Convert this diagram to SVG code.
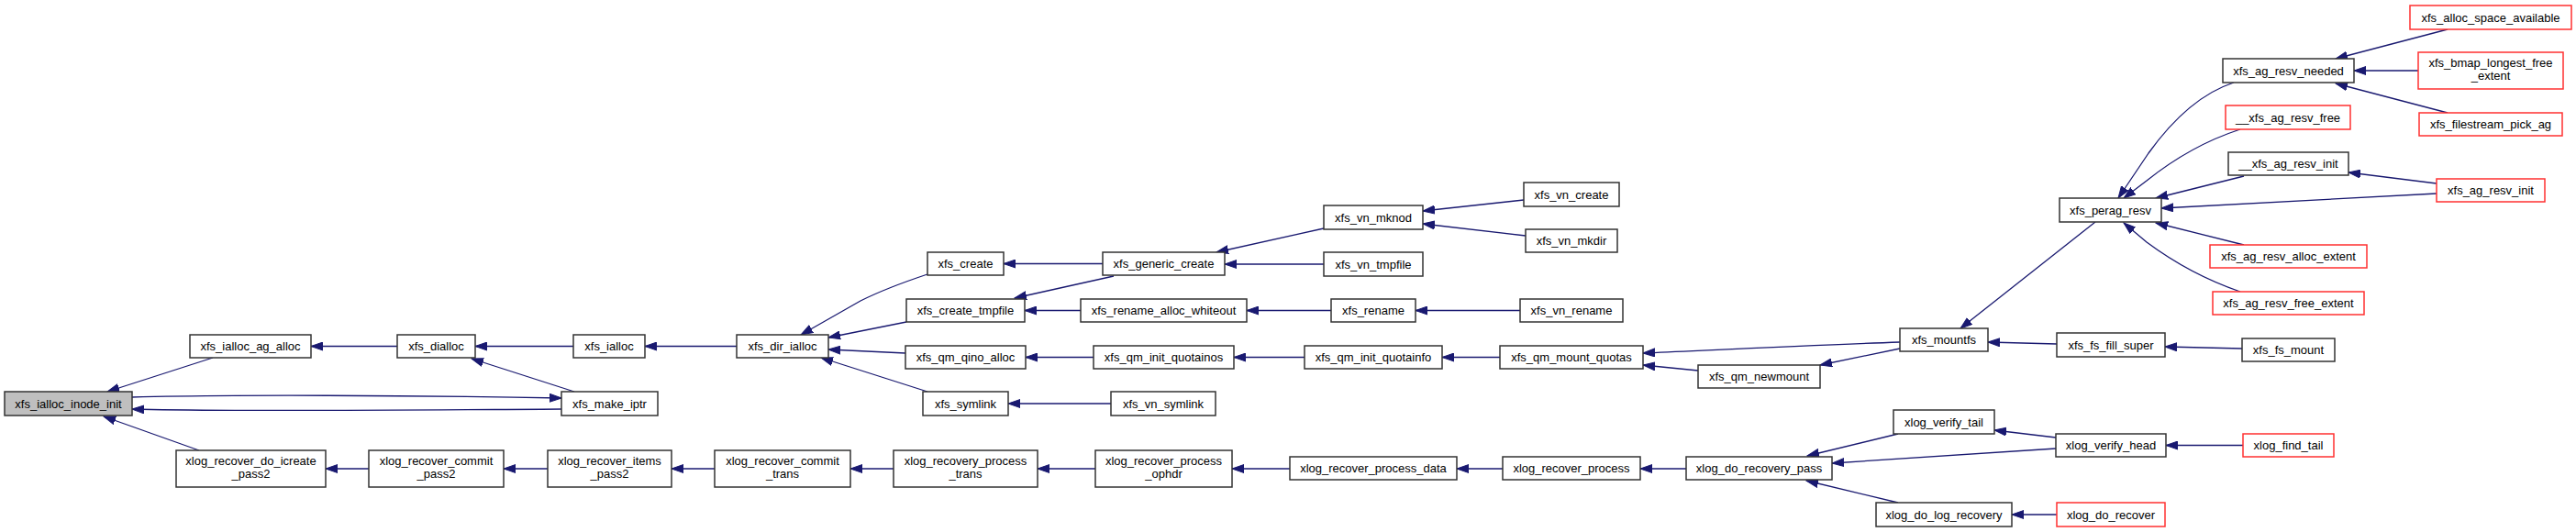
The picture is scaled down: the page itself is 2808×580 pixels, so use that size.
<svg xmlns="http://www.w3.org/2000/svg" width="2808" height="580" viewBox="0 0 2808 580">
<style>
.n rect{fill:#ffffff;stroke:#333333;stroke-width:1.5}
.n.r rect{stroke:#ff3030}
.n.root rect{fill:#bfbfbf}
.n text{font-family:"Liberation Sans",Arial,sans-serif;font-size:13px;fill:#000;text-anchor:middle}
#edges path{fill:none;stroke:#191970;stroke-width:1.3;marker-end:url(#ah)}
</style>
<defs>
<marker id="ah" markerUnits="userSpaceOnUse" viewBox="0 0 14 10" refX="13" refY="5" markerWidth="14" markerHeight="10" orient="auto">
<path d="M0,0.5 L13,5 L0,9.5 z" fill="#191970" stroke="#191970" stroke-width="1"/>
</marker>
</defs>
<rect x="0" y="0" width="2808" height="580" fill="#ffffff"/>
<g id="edges">
<path d="M232,390 L117,427"/>
<path d="M612,446 C450,447 250,449 144,446"/>
<path d="M144,433 C250,430 450,431 612,434"/>
<path d="M217,491 L113,454"/>
<path d="M433,377.5 L339,377.5"/>
<path d="M625,377.5 L518,377.5"/>
<path d="M626,427 L514,391"/>
<path d="M803,377.5 L703,377.5"/>
<path d="M1011,299 C975,311 950,322 938,328 L873,365"/>
<path d="M988,351 L903,368"/>
<path d="M987,385 L903,381"/>
<path d="M1011,427 L895,390"/>
<path d="M1202,287.5 L1094,287.5"/>
<path d="M1214,301 L1106,325"/>
<path d="M1178,338.5 L1117,338.5"/>
<path d="M1192,389.5 L1118,389.5"/>
<path d="M1211,440 L1099,440"/>
<path d="M1443,249 L1326,275"/>
<path d="M1443,288 L1335,288"/>
<path d="M1661,218 L1551,230"/>
<path d="M1663,257 L1551,244"/>
<path d="M1451,338.5 L1359,338.5"/>
<path d="M1657,338.5 L1543,338.5"/>
<path d="M1422,389.5 L1345,389.5"/>
<path d="M1635,389.5 L1572,389.5"/>
<path d="M2071,373 C1980,376 1880,381 1791,385"/>
<path d="M1851,404 L1791,398"/>
<path d="M2071,380 L1984,398"/>
<path d="M2284,242 L2137,358"/>
<path d="M2242,375 L2167,373"/>
<path d="M2444,380 L2360,378"/>
<path d="M402,511 L355,511"/>
<path d="M597,511 L549,511"/>
<path d="M779,511 L732,511"/>
<path d="M974,511 L927,511"/>
<path d="M1194,511 L1131,511"/>
<path d="M1406,511 L1343,511"/>
<path d="M1638,511 L1588,511"/>
<path d="M1838,511 L1788,511"/>
<path d="M2069,473 L1970,497"/>
<path d="M2241,489 L1997,505"/>
<path d="M2069,548 L1969,524"/>
<path d="M2241,477 L2174,469"/>
<path d="M2445,485.5 L2361,485.5"/>
<path d="M2242,561 L2193,561"/>
<path d="M2435,90 C2395,103 2365,135 2342,167 L2309,216"/>
<path d="M2442,141 C2405,153 2370,173 2340,197 L2315,216"/>
<path d="M2446,192 L2350,216"/>
<path d="M2656,211 L2356,227"/>
<path d="M2446,267 L2350,243"/>
<path d="M2442,318 C2410,307 2375,290 2340,264 L2315,243"/>
<path d="M2656,200 L2560,188"/>
<path d="M2668,32 L2546,64"/>
<path d="M2636,77 L2566,77"/>
<path d="M2668,123 L2546,91"/>
</g>
<g id="n0" class="n root"><rect x="5" y="427" width="139" height="26"/><text x="74.5" y="444.5">xfs_ialloc_inode_init</text></g>
<g id="n1" class="n"><rect x="207" y="365" width="132" height="25"/><text x="273" y="382">xfs_ialloc_ag_alloc</text></g>
<g id="n2" class="n"><rect x="612" y="427" width="105" height="26"/><text x="664.5" y="444.5">xfs_make_iptr</text></g>
<g id="n3" class="n"><rect x="192" y="491" width="163" height="40"/><text x="273.5" y="507">xlog_recover_do_icreate</text><text x="273.5" y="521">_pass2</text></g>
<g id="n4" class="n"><rect x="433" y="365" width="85" height="25"/><text x="475.5" y="382">xfs_dialloc</text></g>
<g id="n5" class="n"><rect x="402" y="491" width="147" height="40"/><text x="475.5" y="507">xlog_recover_commit</text><text x="475.5" y="521">_pass2</text></g>
<g id="n6" class="n"><rect x="625" y="365" width="78" height="25"/><text x="664" y="382">xfs_ialloc</text></g>
<g id="n7" class="n"><rect x="597" y="491" width="135" height="40"/><text x="664.5" y="507">xlog_recover_items</text><text x="664.5" y="521">_pass2</text></g>
<g id="n8" class="n"><rect x="803" y="365" width="100" height="25"/><text x="853" y="382">xfs_dir_ialloc</text></g>
<g id="n9" class="n"><rect x="779" y="491" width="148" height="40"/><text x="853" y="507">xlog_recover_commit</text><text x="853" y="521">_trans</text></g>
<g id="n10" class="n"><rect x="1011" y="275" width="83" height="25"/><text x="1052.5" y="292">xfs_create</text></g>
<g id="n11" class="n"><rect x="988" y="326" width="129" height="25"/><text x="1052.5" y="343">xfs_create_tmpfile</text></g>
<g id="n12" class="n"><rect x="987" y="377" width="131" height="25"/><text x="1052.5" y="394">xfs_qm_qino_alloc</text></g>
<g id="n13" class="n"><rect x="1006" y="427" width="93" height="26"/><text x="1052.5" y="444.5">xfs_symlink</text></g>
<g id="n14" class="n"><rect x="974" y="491" width="157" height="40"/><text x="1052.5" y="507">xlog_recovery_process</text><text x="1052.5" y="521">_trans</text></g>
<g id="n15" class="n"><rect x="1202" y="275" width="133" height="25"/><text x="1268.5" y="292">xfs_generic_create</text></g>
<g id="n16" class="n"><rect x="1178" y="326" width="181" height="25"/><text x="1268.5" y="343">xfs_rename_alloc_whiteout</text></g>
<g id="n17" class="n"><rect x="1192" y="377" width="153" height="25"/><text x="1268.5" y="394">xfs_qm_init_quotainos</text></g>
<g id="n18" class="n"><rect x="1211" y="427" width="114" height="26"/><text x="1268" y="444.5">xfs_vn_symlink</text></g>
<g id="n19" class="n"><rect x="1194" y="491" width="149" height="40"/><text x="1268.5" y="507">xlog_recover_process</text><text x="1268.5" y="521">_ophdr</text></g>
<g id="n20" class="n"><rect x="1443" y="224" width="108" height="26"/><text x="1497" y="241.5">xfs_vn_mknod</text></g>
<g id="n21" class="n"><rect x="1443" y="275" width="108" height="26"/><text x="1497" y="292.5">xfs_vn_tmpfile</text></g>
<g id="n22" class="n"><rect x="1451" y="326" width="92" height="25"/><text x="1497" y="343">xfs_rename</text></g>
<g id="n23" class="n"><rect x="1422" y="377" width="150" height="25"/><text x="1497" y="394">xfs_qm_init_quotainfo</text></g>
<g id="n24" class="n"><rect x="1406" y="498" width="182" height="25"/><text x="1497" y="515">xlog_recover_process_data</text></g>
<g id="n25" class="n"><rect x="1661" y="199" width="104" height="26"/><text x="1713" y="216.5">xfs_vn_create</text></g>
<g id="n26" class="n"><rect x="1663" y="250" width="100" height="25"/><text x="1713" y="267">xfs_vn_mkdir</text></g>
<g id="n27" class="n"><rect x="1657" y="326" width="112" height="25"/><text x="1713" y="343">xfs_vn_rename</text></g>
<g id="n28" class="n"><rect x="1635" y="377" width="156" height="25"/><text x="1713" y="394">xfs_qm_mount_quotas</text></g>
<g id="n29" class="n"><rect x="1638" y="498" width="150" height="25"/><text x="1713" y="515">xlog_recover_process</text></g>
<g id="n30" class="n"><rect x="1851" y="398" width="133" height="25"/><text x="1917.5" y="415">xfs_qm_newmount</text></g>
<g id="n31" class="n"><rect x="1838" y="498" width="159" height="25"/><text x="1917.5" y="515">xlog_do_recovery_pass</text></g>
<g id="n32" class="n"><rect x="2071" y="358" width="96" height="25"/><text x="2119" y="375">xfs_mountfs</text></g>
<g id="n33" class="n"><rect x="2064" y="447" width="110" height="26"/><text x="2119" y="464.5">xlog_verify_tail</text></g>
<g id="n34" class="n"><rect x="2045" y="548" width="148" height="26"/><text x="2119" y="565.5">xlog_do_log_recovery</text></g>
<g id="n35" class="n"><rect x="2245" y="216" width="111" height="26"/><text x="2300.5" y="233.5">xfs_perag_resv</text></g>
<g id="n36" class="n"><rect x="2242" y="363" width="118" height="26"/><text x="2301" y="380.5">xfs_fs_fill_super</text></g>
<g id="n37" class="n"><rect x="2241" y="473" width="120" height="25"/><text x="2301" y="490">xlog_verify_head</text></g>
<g id="n38" class="n r"><rect x="2242" y="548" width="118" height="26"/><text x="2301" y="565.5">xlog_do_recover</text></g>
<g id="n39" class="n"><rect x="2423" y="64" width="143" height="26"/><text x="2494.5" y="81.5">xfs_ag_resv_needed</text></g>
<g id="n40" class="n r"><rect x="2426" y="115" width="136" height="26"/><text x="2494" y="132.5">__xfs_ag_resv_free</text></g>
<g id="n41" class="n"><rect x="2429" y="166" width="131" height="25"/><text x="2494.5" y="183">__xfs_ag_resv_init</text></g>
<g id="n42" class="n r"><rect x="2409" y="267" width="171" height="25"/><text x="2494.5" y="284">xfs_ag_resv_alloc_extent</text></g>
<g id="n43" class="n r"><rect x="2412" y="318" width="165" height="25"/><text x="2494.5" y="335">xfs_ag_resv_free_extent</text></g>
<g id="n44" class="n"><rect x="2444" y="369" width="101" height="25"/><text x="2494.5" y="386">xfs_fs_mount</text></g>
<g id="n45" class="n r"><rect x="2445" y="473" width="99" height="25"/><text x="2494.5" y="490">xlog_find_tail</text></g>
<g id="n46" class="n r"><rect x="2627" y="6" width="176" height="26"/><text x="2715" y="23.5">xfs_alloc_space_available</text></g>
<g id="n47" class="n r"><rect x="2636" y="57" width="158" height="40"/><text x="2715" y="73">xfs_bmap_longest_free</text><text x="2715" y="87">_extent</text></g>
<g id="n48" class="n r"><rect x="2637" y="123" width="156" height="25"/><text x="2715" y="140">xfs_filestream_pick_ag</text></g>
<g id="n49" class="n r"><rect x="2656" y="195" width="118" height="25"/><text x="2715" y="212">xfs_ag_resv_init</text></g>
</svg>
